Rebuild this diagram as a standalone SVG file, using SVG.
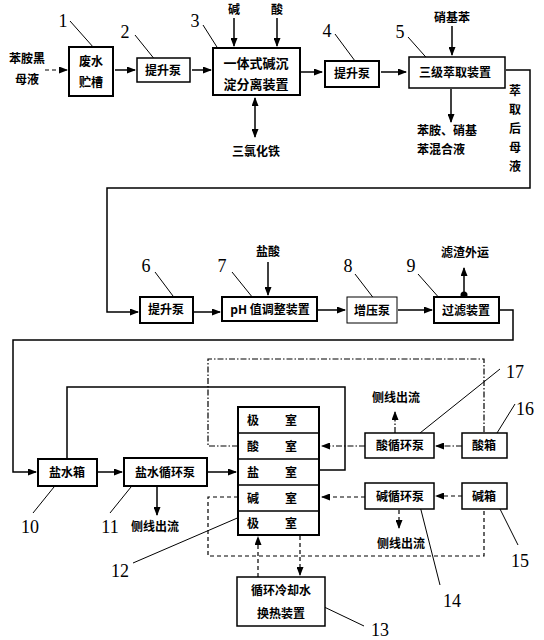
<svg xmlns="http://www.w3.org/2000/svg" width="544" height="640" viewBox="0 0 544 640">
<defs>
<marker id="ah" markerUnits="userSpaceOnUse" markerWidth="9" markerHeight="7" refX="8" refY="3.5" orient="auto"><path d="M0,0 L9,3.5 L0,7 z" fill="#000"/></marker>
<marker id="ahs" markerUnits="userSpaceOnUse" markerWidth="9" markerHeight="7" refX="1" refY="3.5" orient="auto"><path d="M9,0 L0,3.5 L9,7 z" fill="#000"/></marker>
<marker id="dot" markerUnits="userSpaceOnUse" markerWidth="8" markerHeight="8" refX="4" refY="4"><circle cx="4" cy="4" r="3.5" fill="#000"/></marker>
</defs>
<style>
.b{fill:#fff;stroke:#000;stroke-width:2}
.bm{fill:#fff;stroke:#000;stroke-width:1.5}
.bt{fill:#fff;stroke:#000;stroke-width:1}
.t{font-family:"Noto Sans CJK SC","Noto Sans CJK JP",sans-serif;font-weight:bold;font-size:12px;text-anchor:middle;fill:#000}
.n{font-family:"Liberation Serif",serif;font-size:18px;text-anchor:middle;fill:#000}
.c{fill:none;stroke:#000;stroke-width:1.5}
.ca{fill:none;stroke:#000;stroke-width:1.5;marker-end:url(#ah)}
.dd{fill:none;stroke:#000;stroke-width:1.2;stroke-dasharray:6,2,1.5,2}
.ds{fill:none;stroke:#000;stroke-width:1.2;stroke-dasharray:4,3}
.ld{fill:none;stroke:#000;stroke-width:1}
</style>
<rect width="544" height="640" fill="#fff"/>

<g id="connectors">
<path class="ds" d="M45,70 H67" marker-end="url(#ah)"/>
<path class="ca" d="M115,70 H135"/>
<path class="ca" d="M192,70 H211"/>
<path class="ca" d="M234,18 V46"/>
<path class="ca" d="M277,18 V46"/>
<path class="c" d="M255,98 V137" marker-start="url(#ahs)" marker-end="url(#ah)"/>
<path class="ca" d="M301,72 H322"/>
<path class="ca" d="M381,72 H406"/>
<path class="ca" d="M452,26 V55"/>
<path class="ca" d="M451,89 V122"/>
<path class="c" d="M506,70 H530 V188 H107 V312 H138" marker-end="url(#ah)"/>
<path class="ca" d="M194,312 H220"/>
<path class="ca" d="M268,262 V295"/>
<path class="c" d="M318,310 H345" marker-end="url(#ah)"/>
<path class="ca" d="M398,310 H432"/>
<path class="c" d="M464,295 V268" marker-start="url(#dot)" marker-end="url(#ah)"/>
<path class="c" d="M500,310 H513 V340 H13 V472 H36" marker-end="url(#ah)"/>
<path class="c" d="M98,472 H122" marker-end="url(#ah)"/>
<path class="c" d="M208,472 H236" marker-end="url(#ah)"/>
<path class="ca" d="M157,487 V515"/>
<path class="c" d="M320,470 H345 V387 H67 V459" style="stroke-width:1.5"/>
<path class="dd" d="M238,446 H208 V359 H484 V432"/>
<path class="dd" d="M462,446 H436" marker-end="url(#ah)"/>
<path class="dd" d="M365,446 H322" marker-end="url(#ah)"/>
<path class="dd" d="M395,433 V412" marker-end="url(#ah)"/>
<path class="ds" d="M238,497 H208 V556 H484 V510"/>
<path class="ds" d="M462,496 H436" marker-end="url(#ah)"/>
<path class="ds" d="M365,497 H322" marker-end="url(#ah)"/>
<path class="ds" d="M399,510 V528" marker-end="url(#ah)"/>
<path class="ds" d="M258,577 V537" marker-end="url(#ah)"/>
<path class="ds" d="M300,536 V575" marker-end="url(#ah)"/>
<!-- leader lines -->
<path class="ld" d="M70,21 L94,48"/>
<path class="ld" d="M135,35 L160,66"/>
<path class="ld" d="M203,25 L222,55"/>
<path class="ld" d="M335,34 L358,65"/>
<path class="ld" d="M408,37 L432,64"/>
<path class="ld" d="M155,272 L176,300"/>
<path class="ld" d="M232,272 L253,298"/>
<path class="ld" d="M355,274 L375,300"/>
<path class="ld" d="M418,274 L441,300"/>
<path class="ld" d="M33,513 L54,487"/>
<path class="ld" d="M110,513 L131,487"/>
<path class="ld" d="M133,563 L242,516"/>
<path class="ld" d="M320,605 L364,626"/>
<path class="ld" d="M420,506 L440,585"/>
<path class="ld" d="M498,505 L518,545"/>
<path class="ld" d="M515,404 L497,433"/>
<path class="ld" d="M420,433 L500,369"/>
</g>

<g id="n0"><text class="t" x="27" y="63">苯胺黑</text><text class="t" x="27" y="84">母液</text></g>
<g id="n1"><rect class="b" x="69" y="47" width="44" height="49"/><text class="t" x="91" y="66">废水</text><text class="t" x="91" y="87">贮槽</text><text class="n" x="63" y="27">1</text></g>
<g id="n2"><rect class="bm" x="137" y="58" width="53" height="24"/><text class="t" x="163" y="75">提升泵</text><text class="n" x="125" y="38">2</text></g>
<g id="n3"><rect class="b" x="213" y="48" width="87" height="47"/><text class="t" x="256" y="68" style="font-size:13px">一体式碱沉</text><text class="t" x="256" y="89" style="font-size:13px">淀分离装置</text><text class="n" x="195" y="27">3</text>
<text class="t" x="234" y="14">碱</text><text class="t" x="277" y="14">酸</text><text class="t" x="256" y="156">三氯化铁</text></g>
<g id="n4"><rect class="b" x="325" y="61" width="54" height="26"/><text class="t" x="352" y="78">提升泵</text><text class="n" x="327" y="37">4</text></g>
<g id="n5"><rect class="bm" x="409" y="57" width="96" height="31"/><text class="t" x="455" y="77">三级萃取装置</text><text class="n" x="400" y="38">5</text>
<text class="t" x="452" y="22">硝基苯</text><text class="t" x="447" y="135">苯胺、硝基</text><text class="t" x="441" y="154">苯混合液</text>
<text class="t" x="515" y="95">萃</text><text class="t" x="515" y="114">取</text><text class="t" x="515" y="133">后</text><text class="t" x="515" y="152">母</text><text class="t" x="515" y="171">液</text></g>
<g id="n6"><rect class="b" x="140" y="297" width="53" height="26"/><text class="t" x="166" y="314">提升泵</text><text class="n" x="146" y="272">6</text></g>
<g id="n7"><rect class="b" x="222" y="297" width="95" height="24"/><text class="t" x="270" y="314">pH 值调整装置</text><text class="n" x="222" y="272">7</text><text class="t" x="268" y="256">盐酸</text></g>
<g id="n8"><rect class="bt" x="347" y="297" width="50" height="26"/><text class="t" x="372" y="315">增压泵</text><text class="n" x="348" y="272">8</text></g>
<g id="n9"><rect class="b" x="434" y="297" width="65" height="26"/><text class="t" x="466" y="315">过滤装置</text><text class="n" x="411" y="272">9</text><text class="t" x="465" y="257">滤渣外运</text></g>
<g id="n10"><rect class="b" x="38" y="459" width="59" height="27"/><text class="t" x="67" y="477">盐水箱</text><text class="n" x="30" y="533">10</text></g>
<g id="n11"><rect class="b" x="124" y="458" width="83" height="28"/><text class="t" x="165" y="477">盐水循环泵</text><text class="n" x="110" y="533">11</text><text class="t" x="155" y="531">侧线出流</text></g>
<g id="n12"><rect class="b" x="238" y="407" width="81" height="128"/>
<path class="c" d="M238,433 H319 M238,459 H319 M238,485 H319 M238,511 H319"/>
<text class="t" x="253" y="425">极</text><text class="t" x="291" y="425">室</text>
<text class="t" x="253" y="451">酸</text><text class="t" x="291" y="451">室</text>
<text class="t" x="253" y="477">盐</text><text class="t" x="291" y="477">室</text>
<text class="t" x="253" y="503">碱</text><text class="t" x="291" y="503">室</text>
<text class="t" x="253" y="528">极</text><text class="t" x="291" y="528">室</text>
<text class="n" x="120" y="577">12</text></g>
<g id="n13"><rect class="bm" x="237" y="577" width="88" height="49"/><text class="t" x="281" y="595">循环冷却水</text><text class="t" x="281" y="618">换热装置</text><text class="n" x="380" y="636">13</text></g>
<g id="n14"><rect class="bm" x="365" y="483" width="69" height="26"/><text class="t" x="400" y="501">碱循环泵</text><text class="n" x="452" y="607">14</text><text class="t" x="401" y="548">侧线出流</text></g>
<g id="n15"><rect class="bm" x="462" y="483" width="45" height="26"/><text class="t" x="484" y="501">碱箱</text><text class="n" x="520" y="567">15</text></g>
<g id="n16"><rect class="bm" x="462" y="433" width="45" height="25"/><text class="t" x="484" y="450">酸箱</text><text class="n" x="525" y="415">16</text></g>
<g id="n17"><rect class="bm" x="365" y="433" width="69" height="25"/><text class="t" x="400" y="450">酸循环泵</text><text class="n" x="515" y="378">17</text><text class="t" x="396" y="402">侧线出流</text></g>
</svg>
